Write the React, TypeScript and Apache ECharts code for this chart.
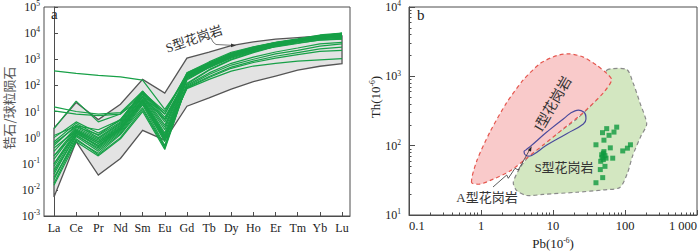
import React, { useEffect, useRef } from 'react';
import * as echarts from 'echarts';

const FONT = "'Liberation Serif','Times New Roman','Noto Sans CJK SC',serif";
const CJK = "'Noto Sans CJK SC','Liberation Serif',serif";

// ---------- Panel a: REE patterns ----------
const REE = ['La', 'Ce', 'Pr', 'Nd', 'Sm', 'Eu', 'Gd', 'Tb', 'Dy', 'Ho', 'Er', 'Tm', 'Yb', 'Lu'];
const envelopeUpper = [2.3, 22, 4.9, 19, 170, 51, 1100, 1860, 3300, 4600, 5900, 6700, 7800, 7800];
const envelopeLower = [0.0053, 0.7, 0.037, 0.16, 1.9, 0.8, 16, 33, 72, 140, 227, 380, 540, 680];

const zircon01 = [0.018, 0.9, 0.22, 1.0, 12, 0.4, 120, 400, 1000, 1900, 3200, 4800, 7000, 9000];
const zircon02 = [0.025, 1.1, 0.3, 1.4, 18, 0.5, 160, 480, 1200, 2200, 3600, 5200, 7500, 9500];
const zircon03 = [0.04, 1.3, 0.35, 1.6, 20, 0.7, 180, 500, 1250, 2300, 3700, 5300, 7800, 9800];
const zircon04 = [0.06, 1.5, 0.45, 2.0, 25, 0.9, 200, 560, 1350, 2400, 3800, 5400, 7600, 9200];
const zircon05 = [0.08, 1.6, 0.5, 2.3, 28, 1.0, 220, 600, 1400, 2500, 3900, 5500, 7400, 8800];
const zircon06 = [0.1, 1.8, 0.6, 2.5, 30, 1.2, 240, 640, 1500, 2600, 4000, 5600, 7200, 8500];
const zircon07 = [0.15, 2.0, 0.7, 2.8, 35, 1.5, 260, 680, 1600, 2700, 4100, 5500, 7000, 8000];
const zircon08 = [0.2, 2.2, 0.8, 3.0, 38, 2.0, 280, 700, 1650, 2800, 4200, 5600, 6800, 7600];
const zircon09 = [0.3, 2.5, 0.9, 3.3, 40, 2.5, 300, 720, 1700, 2900, 4300, 5700, 6900, 7400];
const zircon10 = [0.5, 3.0, 1.0, 3.6, 45, 3.0, 250, 650, 1550, 2700, 4000, 5300, 6500, 7000];
const zircon11 = [0.7, 3.5, 1.2, 4.0, 50, 4.0, 230, 600, 1450, 2500, 3700, 5000, 6200, 6700];
const zircon12 = [1.0, 4.0, 1.5, 4.5, 55, 5.0, 210, 560, 1300, 2300, 3400, 4600, 5800, 6300];
const zircon13 = [1.2, 2.8, 2.0, 4.8, 60, 6.0, 200, 520, 1200, 2100, 3100, 4200, 5400, 5900];
const zircon14 = [0.03, 0.8, 0.25, 1.3, 14, 0.45, 100, 300, 700, 1200, 1900, 2700, 3900, 4400];
const zircon15 = [0.05, 1.2, 0.4, 1.8, 22, 0.8, 90, 260, 600, 1000, 1600, 2200, 3200, 3900];
const zircon16 = [0.1, 1.4, 0.5, 2.0, 24, 0.9, 85, 220, 500, 850, 1300, 1800, 2500, 2900];
const zircon17 = [0.2, 1.7, 0.6, 2.2, 26, 1.1, 80, 200, 450, 750, 1100, 1500, 2000, 2200];
const zircon18 = [0.4, 1.9, 0.7, 2.4, 30, 1.3, 75, 170, 350, 550, 700, 850, 950, 1050];
const zircon19 = [360, 290, 240, 210, 160, 12, 200, 550, 1300, 2300, 3500, 4800, 6500, 7500];
const zircon20 = [15, 10, 8, 9, 60, 8, 250, 650, 1500, 2600, 3800, 5000, 6500, 7200];
const zircon21 = [10.5, 8, 7, 8, 35, 5, 180, 480, 1100, 2000, 3000, 4000, 5500, 6000];
const zircon22 = [2.2, 25, 4, 8, 55, 10, 270, 700, 1700, 2800, 4300, 5800, 8000, 9500];
const zircon23 = [0.015, 0.7, 0.2, 0.9, 10, 0.35, 110, 380, 950, 1800, 3100, 4700, 7200, 10000];
const zircon24 = [0.6, 2.6, 1.3, 5, 50, 8, 300, 790, 1850, 3000, 4400, 6000, 8500, 10000];
const zirconPatterns = [
  zircon01, zircon02, zircon03, zircon04, zircon05, zircon06, zircon07, zircon08,
  zircon09, zircon10, zircon11, zircon12, zircon13, zircon14, zircon15, zircon16,
  zircon17, zircon18, zircon19, zircon20, zircon21, zircon22, zircon23, zircon24,
];
const aYTicks = [1e-3, 1e-2, 1e-1, 1, 10, 100, 1000, 10000, 100000];

// ---------- Panel b: Th vs Pb ----------
const pbTicks = [0.1, 1, 10, 100, 1000];
const pbTickLabels = ['0.1', '1', '10', '100', '1 000'];
const thTicks = [10, 100, 1000, 10000];
const minorMultipliers = [2, 3, 4, 5, 6, 7, 8, 9];

const iTypeField = [
  [0.74, 29.4], [0.87, 59.6], [1.33, 157], [2.27, 417], [3.87, 887], [6.6, 1524], [11.3, 1995],
  [17.2, 2110], [26.4, 1893], [40.5, 1443], [55.7, 1102], [65.3, 887], [50, 576], [26.4, 301],
  [13.9, 175], [7.3, 102], [4.3, 66], [2.53, 43], [1.48, 32.9], [0.97, 27.9],
];
const sTypeField = [
  [55.7, 1227], [105.6, 1256], [130, 797], [161, 417], [200, 206], [165, 135], [128, 72],
  [108, 40], [85, 25], [50, 23], [21.3, 21.3], [7.3, 19.8], [4.3, 19.1], [3.13, 22.5],
  [2.81, 29.4], [3.48, 47.9], [5.06, 78], [9.1, 127], [21.3, 243], [40.5, 464], [58.6, 797],
];
const aTypeField = [
  [4.22, 87], [4.8, 96.8], [8.2, 157], [13.9, 243], [20.2, 318], [26.4, 308], [28.7, 243],
  [26.4, 206], [15.5, 149], [8.2, 102], [5.06, 72.3], [4.22, 72.3], [3.96, 82],
];
const samplePb = [76.7, 55.7, 70.3, 48.7, 60, 51, 39.5, 62.5, 119, 108, 93, 67.5, 50, 47.5, 52.7, 54.5, 50, 46, 52.7, 45.4, 49, 39.5, 51, 48];
const sampleTh = [185, 176, 157, 154, 141, 120, 103, 93, 103, 92, 84, 66, 78, 74, 71.6, 66, 63, 59.5, 50.3, 45.2, 34.6, 29.2, 82, 67.8];

const minorOf = (majors: number[]) => {
  const out: number[] = [];
  majors.slice(0, -1).forEach((m) => minorMultipliers.forEach((k) => out.push(+(m * k).toPrecision(3))));
  return out;
};

const AXIS = '#4d4d4d';
const GREEN = '#17a047';

const supRich = {
  b: { fontFamily: FONT, fontSize: 12, color: '#222', lineHeight: 14 },
  s: { fontFamily: FONT, fontSize: 7.5, color: '#222', verticalAlign: 'top', lineHeight: 8 },
};
const powLabel = (v: number) => `{b|10}{s|${Math.round(Math.log10(v))}}`;

function polygonSeries(points: number[][], xi: number, yi: number, style: any, smooth: number, z: number) {
  return {
    type: 'custom',
    xAxisIndex: xi,
    yAxisIndex: yi,
    silent: true,
    z,
    data: [[points[0][0], points[0][1]]],
    renderItem: (_p: any, api: any) => ({
      type: 'polygon',
      shape: { points: points.map((pt) => api.coord(pt)), smooth },
      style,
    }),
  };
}

const titleRich = {
  b: { fontFamily: FONT, fontSize: 13, fill: '#222', lineHeight: 13 },
  s: { fontFamily: FONT, fontSize: 7.5, fill: '#222', verticalAlign: 'top', lineHeight: 7 },
};

export default function App() {
  const ref = useRef<HTMLDivElement>(null);
  useEffect(() => {
    const chart = echarts.init(ref.current!, null, { renderer: 'svg' });
    const envelope = {
      type: 'custom',
      xAxisIndex: 0,
      yAxisIndex: 0,
      silent: true,
      z: 1,
      data: [[0, 1]],
      renderItem: (_p: any, api: any) => {
        const pts: number[][] = [];
        envelopeUpper.forEach((v, i) => pts.push(api.coord([i, v])));
        for (let i = envelopeLower.length - 1; i >= 0; i--) pts.push(api.coord([i, envelopeLower[i]]));
        return { type: 'polygon', shape: { points: pts }, style: { fill: '#e3e3e3', stroke: '#555', lineWidth: 1.3 } };
      },
    };
    const lines = zirconPatterns.map((vals) => ({
      type: 'line',
      xAxisIndex: 0,
      yAxisIndex: 0,
      symbol: 'none',
      silent: true,
      z: 3,
      lineStyle: { color: GREEN, width: 1.2 },
      data: vals.map((v, i) => [i, v]),
    }));

    const option: any = {
      animation: false,
      textStyle: { fontFamily: FONT },
      grid: [
        { left: 44, top: 2, width: 306, height: 214, show: true, borderColor: AXIS, borderWidth: 1, backgroundColor: 'transparent' },
        { left: 409, top: 2, width: 288, height: 213, show: true, borderColor: AXIS, borderWidth: 1, backgroundColor: 'transparent' },
      ],
      xAxis: [
        {
          gridIndex: 0, type: 'value', min: -0.451, max: 13.36,
          axisLine: { lineStyle: { color: AXIS, width: 1 } },
          axisTick: { inside: true, length: 4, customValues: REE.map((_, i) => i), lineStyle: { color: AXIS } },
          axisLabel: {
            customValues: REE.map((_, i) => i), margin: 6, fontSize: 12, color: '#222', fontFamily: FONT,
            formatter: (v: number) => REE[Math.round(v)] ?? '',
          },
          splitLine: { show: false },
        },
        {
          gridIndex: 1, type: 'log', logBase: 10, min: 0.1, max: 1000, position: 'bottom',
          axisLine: { lineStyle: { color: AXIS, width: 1 } },
          axisTick: { inside: true, length: 5, customValues: pbTicks, lineStyle: { color: AXIS } },
          axisLabel: {
            customValues: pbTicks, margin: 5, fontSize: 12.5, color: '#222', fontFamily: FONT,
            alignMinLabel: 'left', alignMaxLabel: 'right',
            formatter: (v: number) => pbTickLabels[pbTicks.findIndex((t) => Math.abs(t - v) / t < 1e-6)] ?? '',
          },
          splitLine: { show: false },
        },
        {
          gridIndex: 1, type: 'log', logBase: 10, min: 0.1, max: 1000, position: 'bottom',
          axisLine: { show: false },
          axisTick: { inside: true, length: 2.5, customValues: minorOf(pbTicks), lineStyle: { color: AXIS } },
          axisLabel: { show: false },
          splitLine: { show: false },
        },
      ],
      yAxis: [
        {
          gridIndex: 0, type: 'log', logBase: 10, min: 0.001, max: 100000,
          axisLine: { show: true, lineStyle: { color: AXIS, width: 1 } },
          axisTick: { show: true, inside: true, length: 4, customValues: aYTicks, lineStyle: { color: AXIS } },
          axisLabel: { customValues: aYTicks, margin: 4, formatter: powLabel, rich: supRich },
          splitLine: { show: false },
        },
        {
          gridIndex: 1, type: 'log', logBase: 10, min: 10, max: 10000, position: 'left',
          axisLine: { show: true, lineStyle: { color: AXIS, width: 1 } },
          axisTick: { show: true, inside: true, length: 6, customValues: thTicks, lineStyle: { color: AXIS } },
          axisLabel: { customValues: thTicks, margin: 8, formatter: powLabel, rich: supRich },
          splitLine: { show: false },
        },
        {
          gridIndex: 1, type: 'log', logBase: 10, min: 10, max: 10000, position: 'left',
          axisLine: { show: false },
          axisTick: { show: true, inside: true, length: 2.5, customValues: minorOf(thTicks), lineStyle: { color: AXIS } },
          axisLabel: { show: false },
          splitLine: { show: false },
        },
      ],
      series: [
        envelope,
        ...lines,
        polygonSeries(sTypeField, 1, 1, { fill: '#d3e7c1', stroke: '#8a8a8a', lineWidth: 1.2, lineDash: [4, 3] }, 0.25, 1),
        polygonSeries(iTypeField, 1, 1, { fill: '#f9caca', stroke: '#e5574f', lineWidth: 1.2, lineDash: [4, 3] }, 0.25, 2),
        polygonSeries(aTypeField, 1, 1, { fill: 'none', stroke: '#4b4b9c', lineWidth: 1.2 }, 0.5, 3),
        {
          type: 'scatter',
          xAxisIndex: 1,
          yAxisIndex: 1,
          symbol: 'rect',
          symbolSize: 5,
          silent: true,
          z: 5,
          itemStyle: { color: '#109a3e' },
          data: samplePb.map((p, i) => [p, sampleTh[i]]),
        },
      ],
      graphic: [
        { type: 'text', z: 100, x: 51, y: 6, style: { text: 'a', fontFamily: FONT, fontSize: 15, fill: '#222' } },
        { type: 'text', z: 100, x: 417, y: 7, style: { text: 'b', fontFamily: FONT, fontSize: 15, fill: '#222' } },
        {
          type: 'text', z: 100, x: 8, y: 108, rotation: Math.PI / 2,
          style: { text: '锆石/球粒陨石', fontFamily: CJK, fontSize: 13, fill: '#555', align: 'center', verticalAlign: 'middle' },
        },
        {
          type: 'text', z: 100, x: 194, y: 39, rotation: 0.33,
          style: { text: 'S型花岗岩', fontFamily: FONT, fontSize: 13, fill: '#333', align: 'center', verticalAlign: 'middle' },
        },
        { type: 'polyline', z: 100, shape: { points: [[200, 37], [211, 38], [213, 42], [216, 44.5], [232, 45.3]] }, style: { stroke: '#555', lineWidth: 0.8, fill: 'none' } },
        { type: 'polygon', z: 100, shape: { points: [[236, 45.5], [231, 43.5], [231, 47.2]] }, style: { fill: '#333' } },
        {
          type: 'text', z: 100, x: 375, y: 97, rotation: Math.PI / 2,
          style: { text: '{b|Th(10}{s|-6}{b|)}', align: 'center', verticalAlign: 'middle', rich: titleRich },
        },
        {
          type: 'text', z: 100, x: 553, y: 243,
          style: { text: '{b|Pb(10}{s|-6}{b|)}', align: 'center', verticalAlign: 'middle', rich: titleRich },
        },
        {
          type: 'text', z: 100, x: 553, y: 104, rotation: 1.05,
          style: { text: 'I型花岗岩', fontFamily: FONT, fontSize: 14, fill: '#333', align: 'center', verticalAlign: 'middle' },
        },
        {
          type: 'text', z: 100, x: 564, y: 167,
          style: { text: 'S型花岗岩', fontFamily: FONT, fontSize: 13, fill: '#333', align: 'center', verticalAlign: 'middle' },
        },
        {
          type: 'text', z: 100, x: 487, y: 197,
          style: { text: 'A型花岗岩', fontFamily: FONT, fontSize: 13, fill: '#333', align: 'center', verticalAlign: 'middle' },
        },
        { type: 'polyline', z: 100, shape: { points: [[493, 187], [506.7, 175], [508.3, 178.3], [515, 168.3], [518.3, 170], [529.5, 150]] }, style: { stroke: '#333', lineWidth: 0.8, fill: 'none' } },
        { type: 'polygon', z: 100, shape: { points: [[531.7, 146.2], [527.8, 150.2], [531, 151.5]] }, style: { fill: '#222' } },
      ],
    };
    chart.setOption(option);
    return () => chart.dispose();
  }, []);
  return <div ref={ref} style={{ position: 'absolute', left: 0, top: 0, width: 700, height: 251 }} />;
}
